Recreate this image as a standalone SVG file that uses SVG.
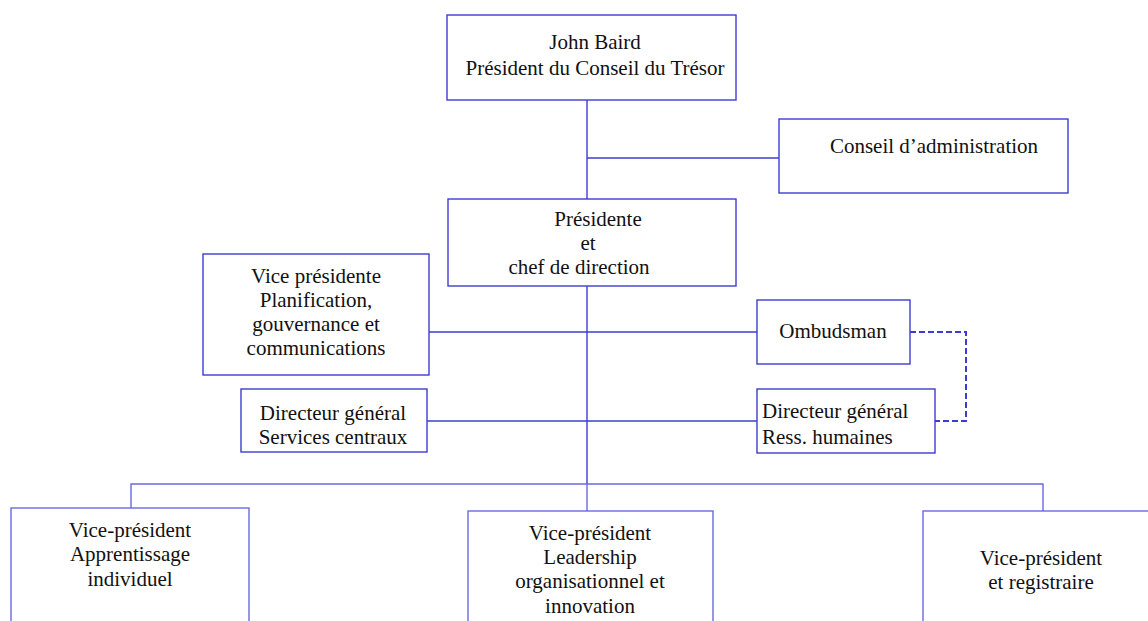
<svg xmlns="http://www.w3.org/2000/svg" width="1148" height="621" viewBox="0 0 1148 621">
<style>
.box{fill:#fff;stroke:#3c3cd0;stroke-width:1.4}
.boxl{fill:#fff;stroke:#6a6ae0;stroke-width:1.4}
.ln{fill:none;stroke:#3c3cd0;stroke-width:1.4}
.lnl{fill:none;stroke:#6a6ae0;stroke-width:1.4}
.dash{fill:none;stroke:#3c3cd0;stroke-width:2;stroke-dasharray:6 3}
text{font-family:"Liberation Serif","Times New Roman",serif;font-size:21px;fill:#111}
.c{text-anchor:middle}
</style>
<rect width="1148" height="621" fill="#fff"/>
<g id="connectors">
<line class="ln" x1="587" y1="100" x2="587" y2="199"/>
<line class="ln" x1="587" y1="158" x2="779" y2="158"/>
<line class="ln" x1="587" y1="286" x2="587" y2="484"/>
<line class="ln" x1="429" y1="332" x2="757" y2="332"/>
<line class="ln" x1="427" y1="421" x2="757" y2="421"/>
<polyline class="dash" points="910,332 966,332 966,421 935,421"/>
<polyline class="lnl" points="131,508 131,484 1043,484 1043,511"/>
<line class="lnl" x1="587" y1="484" x2="587" y2="511"/>
</g>
<g id="treasury">
<rect class="box" x="447" y="15" width="289" height="85"/>
<text class="c" x="595" y="49">John Baird</text>
<text class="c" x="595" y="75">Président du Conseil du Trésor</text>
</g>
<g id="board">
<rect class="box" x="779" y="119" width="289" height="74"/>
<text class="c" x="934" y="153">Conseil d’administration</text>
</g>
<g id="president">
<rect class="box" x="448" y="199" width="288" height="87"/>
<text class="c" x="598" y="226">Présidente</text>
<text class="c" x="588" y="250">et</text>
<text class="c" x="579" y="274">chef de direction</text>
</g>
<g id="vp-planning">
<rect class="box" x="203" y="254" width="226" height="121"/>
<text class="c" x="316" y="283">Vice présidente</text>
<text class="c" x="316" y="307">Planification,</text>
<text class="c" x="316" y="331">gouvernance et</text>
<text class="c" x="316" y="355">communications</text>
</g>
<g id="ombudsman">
<rect class="box" x="757" y="300" width="153" height="64"/>
<text class="c" x="833" y="338">Ombudsman</text>
</g>
<g id="dg-services">
<rect class="box" x="241" y="389" width="186" height="63"/>
<text class="c" x="333" y="420">Directeur général</text>
<text class="c" x="333" y="444">Services centraux</text>
</g>
<g id="dg-rh">
<rect class="box" x="757" y="389" width="178" height="64"/>
<text x="762" y="418">Directeur général</text>
<text x="762" y="444">Ress. humaines</text>
</g>
<g id="vp-apprentissage">
<rect class="boxl" x="11" y="508" width="238" height="130"/>
<text class="c" x="130" y="537">Vice-président</text>
<text class="c" x="130" y="561">Apprentissage</text>
<text class="c" x="130" y="586">individuel</text>
</g>
<g id="vp-leadership">
<rect class="boxl" x="468" y="511" width="245" height="130"/>
<text class="c" x="590" y="540">Vice-président</text>
<text class="c" x="590" y="564">Leadership</text>
<text class="c" x="590" y="588">organisationnel et</text>
<text class="c" x="590" y="613">innovation</text>
</g>
<g id="vp-registraire">
<rect class="boxl" x="923" y="511" width="240" height="130"/>
<text class="c" x="1041" y="565">Vice-président</text>
<text class="c" x="1041" y="589">et registraire</text>
</g>
</svg>
